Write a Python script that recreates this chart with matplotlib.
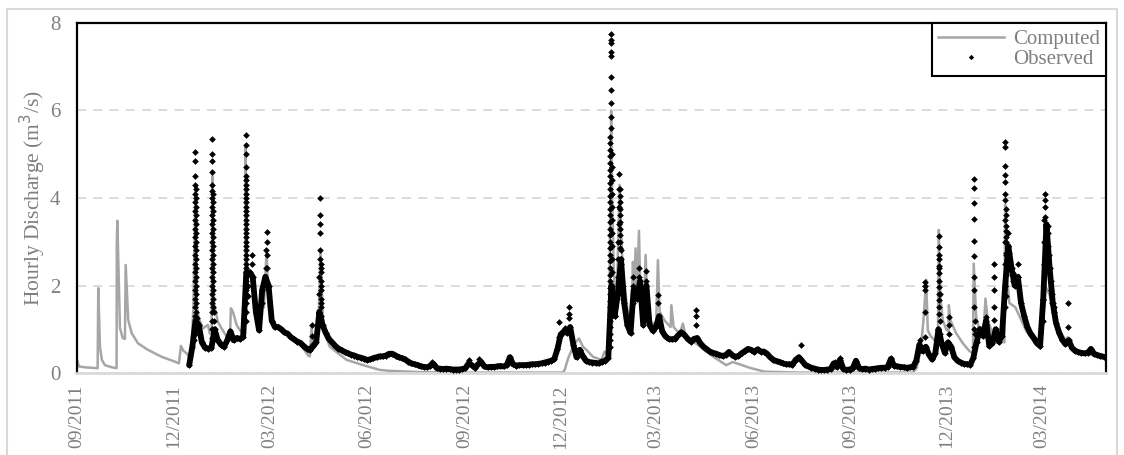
import numpy as np
import pandas as pd
import matplotlib
matplotlib.use('Agg')
import matplotlib.pyplot as plt
import matplotlib.dates as mdates
from matplotlib.patches import Rectangle

START = pd.Timestamp('2011-09-01')
END_DAY = 972.3

# computed hydrograph: days after START and discharge (m3/s)
comp_day = [0, 1.9, 7.6, 19.5, 20.1, 21.7, 23.5, 26.4, 33.0, 37.4,
            37.6, 38.1, 40.6, 43.2, 45.3, 46.0, 48.4, 51.7, 57.6, 67.0,
            80.0, 92.5, 96.3, 98.2, 100.4, 103.6, 105.8, 108.3, 110.0, 111.9,
            113.3, 115.2, 119.0, 123.7, 125.6, 127.2, 127.8, 129.4, 133.1, 136.6,
            141.4, 144.5, 145.4, 147.3, 150.8, 153.9, 157.0, 158.9, 159.3, 160.5,
            162.4, 165.3, 169.0, 172.3, 174.7, 176.6, 179.1, 181.3, 187.0, 198.0,
            210.6, 218.4, 220.0, 221.6, 223.3, 226.6, 228.1, 230.1, 232.3, 234.2,
            238.9, 254.7, 270.4, 286.1, 295.6, 323.9, 371.1, 458.9, 460.8, 464.0,
            468.7, 471.2, 474.3, 478.1, 481.3, 487.6, 495.5, 498.6, 501.4, 502.8,
            503.3, 504.7, 505.7, 507.1, 509.0, 510.4, 511.1, 512.7, 514.2, 515.6,
            517.5, 520.6, 523.8, 525.3, 526.4, 527.8, 529.1, 531.0, 532.6, 535.4,
            537.3, 539.2, 543.0, 547.2, 548.9, 550.5, 555.2, 560.9, 561.6, 563.7,
            569.4, 572.5, 575.1, 583.6, 591.4, 602.5, 613.5, 619.5, 626.1, 635.5,
            649.7, 682.7, 789.4, 793.2, 797.0, 799.8, 802.4, 803.9, 806.4, 810.2,
            813.5, 814.3, 815.9, 818.1, 821.3, 823.5, 823.8, 825.4, 830.7, 837.0,
            843.3, 846.6, 847.3, 849.6, 852.7, 856.5, 858.4, 860.5, 865.3, 871.6,
            876.3, 877.0, 878.7, 881.0, 886.7, 890.5, 897.1, 904.6, 910.3, 912.7,
            914.6, 918.8, 923.5, 930.1, 933.9, 936.3, 942.4, 951.8, 961.3, 972.1]
comp_q = [0.3, 0.15, 0.13, 0.11, 1.94, 0.6, 0.3, 0.18, 0.13, 0.11,
          2.93, 3.48, 1.03, 0.8, 0.78, 2.47, 1.21, 0.91, 0.68, 0.53,
          0.37, 0.26, 0.22, 0.62, 0.51, 0.45, 0.37, 0.6, 1.5, 4.3,
          1.5, 1.25, 1.02, 1.1, 0.9, 1.0, 4.5, 1.6, 1.17, 1.02,
          0.83, 0.8, 1.48, 1.4, 1.1, 0.98, 0.9, 0.91, 5.17, 2.5,
          2.3, 2.2, 1.6, 1.05, 1.7, 1.5, 2.8, 1.5, 1.1, 0.9,
          0.68, 0.4, 0.38, 1.05, 0.55, 0.65, 1.1, 2.8, 1.3, 0.9,
          0.6, 0.3, 0.18, 0.07, 0.05, 0.02, 0.01, 0.01, 0.07, 0.33,
          0.6, 0.7, 0.79, 0.6, 0.53, 0.37, 0.3, 0.49, 0.41, 0.5,
          2.3, 6.0, 4.0, 2.4, 1.7, 2.0, 2.74, 4.3, 3.2, 2.4,
          1.97, 1.36, 1.13, 2.54, 1.6, 2.85, 1.7, 3.25, 1.5, 1.25,
          2.7, 1.35, 1.15, 1.1, 2.58, 1.4, 1.2, 1.05, 1.55, 1.05,
          0.9, 1.13, 0.85, 0.7, 0.55, 0.35, 0.18, 0.25, 0.2, 0.12,
          0.03, 0.01, 0.01, 0.1, 0.5, 1.2, 2.13, 0.98, 0.85, 0.75,
          0.8, 3.27, 1.7, 1.2, 1.0, 0.95, 1.55, 1.2, 0.91, 0.68,
          0.5, 0.45, 2.5, 1.29, 0.98, 0.9, 1.7, 1.2, 0.9, 0.75,
          0.7, 3.85, 2.2, 1.6, 1.5, 1.3, 0.95, 0.7, 0.55, 1.0,
          2.0, 1.8, 1.3, 0.9, 0.75, 0.82, 0.55, 0.45, 0.4, 0.35]

# observed discharge, one reading every 3 days from 16/12/2011
obs_start = '2011-12-16'
obs_q = [0.18, 0.6, 1.2, 1.1, 0.7, 0.58, 0.56, 0.57, 1.0, 0.75,
         0.65, 0.6, 0.75, 0.95, 0.75, 0.8, 0.78, 0.83, 2.3, 2.3,
         2.2, 1.4, 0.98, 1.9, 2.2, 2.0, 1.2, 1.05, 1.05, 1.0,
         0.93, 0.9, 0.82, 0.77, 0.72, 0.69, 0.62, 0.56, 0.52, 0.62,
         0.7, 1.4, 1.1, 0.92, 0.78, 0.7, 0.62, 0.56, 0.52, 0.48,
         0.45, 0.42, 0.4, 0.37, 0.35, 0.33, 0.3, 0.31, 0.34, 0.36,
         0.38, 0.38, 0.4, 0.44, 0.44, 0.4, 0.36, 0.34, 0.31, 0.26,
         0.22, 0.2, 0.18, 0.15, 0.14, 0.13, 0.17, 0.2, 0.11, 0.1,
         0.09, 0.1, 0.09, 0.08, 0.08, 0.08, 0.09, 0.11, 0.22, 0.18,
         0.12, 0.2, 0.25, 0.15, 0.13, 0.14, 0.14, 0.15, 0.16, 0.15,
         0.18, 0.36, 0.2, 0.17, 0.18, 0.18, 0.18, 0.19, 0.2, 0.2,
         0.21, 0.22, 0.24, 0.26, 0.28, 0.32, 0.55, 0.88, 0.95, 0.92,
         1.05, 0.65, 0.36, 0.53, 0.38, 0.28, 0.25, 0.24, 0.23, 0.22,
         0.26, 0.28, 0.35, 2.0, 1.3, 1.8, 2.6, 1.6, 1.1, 0.92,
         1.9, 1.7, 2.1, 1.1, 2.0, 1.1, 0.97, 1.05, 1.3, 0.95,
         0.84, 0.78, 0.77, 0.78, 0.86, 0.93, 0.87, 0.78, 0.72, 0.78,
         0.8, 0.68, 0.6, 0.54, 0.49, 0.46, 0.44, 0.41, 0.39, 0.41,
         0.48, 0.41, 0.37, 0.39, 0.45, 0.5, 0.55, 0.53, 0.48, 0.54,
         0.49, 0.49, 0.44, 0.36, 0.3, 0.27, 0.25, 0.22, 0.2, 0.2,
         0.19, 0.3, 0.36, 0.28, 0.19, 0.15, 0.12, 0.1, 0.08, 0.07,
         0.07, 0.08, 0.09, 0.22, 0.14, 0.3, 0.1, 0.07, 0.08, 0.11,
         0.28, 0.11, 0.09, 0.1, 0.08, 0.09, 0.1, 0.11, 0.12, 0.12,
         0.14, 0.32, 0.17, 0.15, 0.14, 0.13, 0.12, 0.13, 0.14, 0.28,
         0.65, 0.5, 0.6, 0.42, 0.31, 0.45, 1.0, 0.68, 0.46, 0.7,
         0.6, 0.36, 0.28, 0.24, 0.21, 0.2, 0.19, 0.35, 0.7, 1.0,
         0.85, 1.2, 0.62, 0.68, 1.0, 0.72, 0.85, 2.0, 2.9, 2.4,
         2.0, 2.2, 1.6, 1.3, 1.05, 0.9, 0.8, 0.68, 0.62, 1.7,
         3.4, 2.4, 1.6, 1.15, 0.92, 0.76, 0.66, 0.75, 0.58, 0.51,
         0.48, 0.46, 0.45, 0.46, 0.55, 0.44, 0.41, 0.39, 0.37]

# hourly readings during storm events: day after START, readings at that time
peak_day = [110.5, 111.2, 111.9, 112.6, 113.4, 127.8, 128.4, 129.1, 159.3, 160.1,
            161.5, 165.0, 174.7, 178.5, 179.1, 179.8, 221.6, 229.0, 229.7, 230.2,
            230.7, 335.7, 370.6, 380.1, 455.2, 460.8, 464.9, 475.0, 503.3, 503.8,
            504.3, 505.2, 505.7, 506.6, 507.5, 508.5, 511.3, 512.1, 512.7, 513.2,
            514.2, 515.6, 525.3, 528.2, 531.2, 537.3, 548.9, 584.5, 684.3, 715.8,
            720.5, 768.7, 796.5, 800.8, 814.3, 814.8, 815.4, 824.4, 847.3, 848.3,
            852.7, 859.0, 866.9, 877.0, 877.4, 877.9, 879.4, 881.0, 884.2, 888.9,
            912.5, 913.6, 915.0, 916.0, 917.2, 918.8, 920.4, 921.5, 923.0, 936.1,
            958.2]
peak_q = [[0.75], [0.9, 1.06],
          [1.3, 1.5, 1.7, 1.9, 2.1, 2.3, 2.5, 2.7, 2.9, 3.1, 3.3, 3.5, 3.7, 3.9,
           4.1, 4.3, 4.5, 4.85, 5.04],
          [4.2, 4.0, 3.8, 3.6, 3.4, 3.2, 3.0, 2.8, 2.6, 2.4, 2.2, 2.0, 1.8, 1.6, 1.4],
          [1.25, 1.15],
          [0.8, 1.0, 1.2, 1.4, 1.6, 1.8, 2.0, 2.2, 2.4, 2.6, 2.8, 3.0, 3.2, 3.4,
           3.6, 3.8, 4.0, 4.15, 4.3, 4.6, 4.85, 5.0, 5.35],
          [4.1, 3.9, 3.7, 3.5, 3.3, 3.1, 2.9, 2.7, 2.5, 2.3, 2.1, 1.9, 1.7, 1.5],
          [1.4, 1.2],
          [1.2, 1.4, 1.6, 1.8, 2.0, 2.2, 2.4, 2.6, 2.8, 3.0, 3.2, 3.4, 3.6, 3.8,
           4.0, 4.2, 4.4, 4.7, 5.0, 5.2, 5.45],
          [4.5, 4.3, 4.1, 3.9, 3.7, 3.5, 3.3, 3.1, 2.9, 2.7, 2.5, 2.3, 2.1, 1.9],
          [1.75, 2.0], [2.7, 2.5], [1.9, 1.6], [2.4, 2.8], [3.0, 3.22], [2.7, 2.4],
          [1.1, 0.85], [1.8, 2.2], [2.6, 2.8, 3.2, 3.4, 3.6, 4.0],
          [2.5, 2.3, 2.1, 1.9, 1.7, 1.5], [2.4, 2.0, 1.6, 1.3],
          [0.26], [0.3], [0.33], [0.83, 1.17], [1.02], [1.25, 1.35, 1.52], [0.53],
          [0.6, 0.9, 1.2, 1.5, 1.8, 2.1, 2.4, 2.7, 3.0, 3.3, 3.6, 3.9, 4.2, 4.5,
           4.8, 5.1, 5.4],
          [0.75, 1.05, 1.35, 1.65, 1.95, 2.25, 2.55, 2.85, 3.15, 3.45, 3.75, 4.05,
           4.35, 4.65, 4.95, 5.25],
          [5.6, 5.86, 6.16, 6.47, 6.77, 7.25, 7.34, 7.55, 7.61, 7.75],
          [5.0, 4.4, 3.8, 3.2, 2.6, 2.0],
          [4.7, 4.1, 3.5, 2.9, 2.3, 1.8],
          [1.6, 1.4], [1.35], [1.3, 1.5], [2.2, 2.6, 3.0], [3.4, 3.8, 4.2, 4.55],
          [4.05, 3.75, 3.45, 3.15, 2.85],
          [4.2, 3.9, 3.6, 3.3, 3.0], [2.8, 2.5, 2.2], [2.0, 1.7],
          [1.6, 2.0, 2.2], [1.74, 1.9], [2.2, 2.39], [1.9, 2.1, 2.32], [1.6, 1.78],
          [1.1, 1.3, 1.44], [0.64], [0.26], [0.34], [0.34], [0.75],
          [0.83, 1.4, 1.9, 2.0, 2.09],
          [1.36, 1.67, 1.97, 2.29, 2.45, 2.6, 2.89, 3.12],
          [1.5, 1.8, 2.1, 2.4, 2.7],
          [1.8, 1.2, 0.9], [0.9, 1.1, 1.29],
          [0.6, 1.0, 1.52, 1.9, 2.2, 2.67, 3.02, 3.51, 3.88, 4.22, 4.43],
          [1.2, 0.9], [1.0], [1.29, 1.1], [0.9, 1.21, 1.52, 1.9, 2.2, 2.5],
          [1.5, 2.0, 2.5, 3.0, 3.5, 3.95, 4.1, 4.37, 4.53, 4.72, 5.17, 5.27],
          [1.75, 2.25, 2.75, 3.25, 3.75],
          [3.35, 3.0, 2.7, 3.1, 3.6], [3.19, 2.9], [2.74, 2.5], [2.28, 2.1],
          [1.97, 2.2, 2.5], [1.67, 1.2], [2.5, 3.0, 3.5], [3.57, 3.95, 4.1, 3.8],
          [3.0, 3.3], [3.19, 3.35, 2.9], [2.43, 2.7], [1.9, 2.1], [1.8, 1.6],
          [1.4, 1.5], [1.06, 1.59], [0.56]]

GRAY_TEXT = '#7f7f7f'
plt.rcParams['font.family'] = ['Liberation Serif', 'DejaVu Serif']
plt.rcParams['font.size'] = 15


def to_dates(days):
    return START + pd.to_timedelta(np.asarray(days, dtype=float), unit='D')


comp_t = to_dates(comp_day)
obs_t = pd.date_range(obs_start, periods=len(obs_q), freq='3D')
ev_t = to_dates(np.repeat(peak_day, [len(v) for v in peak_q]))
ev_q = [q for v in peak_q for q in v]

all_obs_t = np.concatenate([obs_t.values, ev_t.values])
all_obs_q = np.concatenate([obs_q, ev_q])

fig = plt.figure(figsize=(11.24, 4.55), dpi=100)
ax = fig.add_axes([0.0685, 0.1802, 0.9155, 0.7693])

# light frame round the whole chart
fig.add_artist(Rectangle((0.0062, -0.05), 0.9875, 1.03, transform=fig.transFigure,
                         fill=False, edgecolor='#d9d9d9', lw=1.5))

ax.plot(comp_t, comp_q, color='#a6a6a6', lw=1.8, label='Computed', zorder=2)
# hourly record is dense enough to read as a solid band between the storms
ax.plot(obs_t, obs_q, color='black', lw=4.2, solid_joinstyle='round',
        solid_capstyle='round', zorder=3)
ax.plot(all_obs_t, all_obs_q, ls='none', marker='D', ms=3.4, mec='none',
        color='black', label='Observed', zorder=3)

ax.set_xlim(START, START + pd.Timedelta(days=END_DAY))
ax.set_ylim(0, 8)
ax.set_yticks([0, 2, 4, 6, 8])
ax.yaxis.grid(True, ls=(0, (5, 4)), color='#d9d9d9', lw=1.3)
ax.set_axisbelow(True)

ax.xaxis.set_major_locator(mdates.MonthLocator(bymonth=[3, 6, 9, 12]))
ax.xaxis.set_major_formatter(mdates.DateFormatter('%m/%Y'))
plt.setp(ax.get_xticklabels(), rotation=90, fontsize=14)
ax.tick_params(axis='x', length=0, pad=8, colors=GRAY_TEXT)
ax.tick_params(axis='y', length=0, pad=12, colors=GRAY_TEXT)

for side in ['top', 'left', 'right']:
    ax.spines[side].set_color('black')
    ax.spines[side].set_linewidth(1.6)
ax.spines['bottom'].set_color('#d9d9d9')
ax.spines['bottom'].set_linewidth(2)

ax.set_ylabel('Hourly Discharge (m$^3$/s)', color=GRAY_TEXT, fontsize=15.5)
ax.yaxis.set_label_coords(-0.028, 0.5)

leg = ax.legend(loc='upper right', borderaxespad=0, fancybox=False, framealpha=1,
                edgecolor='black', labelcolor=GRAY_TEXT, handlelength=3.2,
                handletextpad=0.4, borderpad=0.3, labelspacing=0.05,
                markerscale=0.8)
leg.get_frame().set_linewidth(1.5)

fig.savefig('out.png', dpi=100)
